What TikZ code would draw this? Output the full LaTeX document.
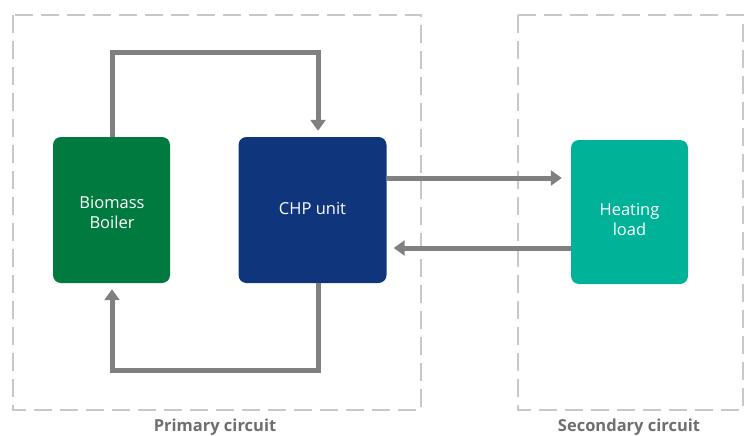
\documentclass[tikz,border=0pt]{standalone}
\usepackage{fontspec}
\setmainfont{Open Sans}
\usetikzlibrary{arrows.meta}
\definecolor{boilergreen}{HTML}{007A3F}
\definecolor{chpblue}{HTML}{0F357C}
\definecolor{loadteal}{HTML}{00B398}
\definecolor{pipegray}{HTML}{808080}
\definecolor{framegray}{HTML}{C8C8C8}
\definecolor{labelgray}{HTML}{6E6E6E}
\tikzset{
  unitbox/.style={rounded corners=8pt, inner sep=0pt},
  unittext/.style={text=white, align=center, font=\fontsize{16.5}{20}\selectfont},
  circuitframe/.style={draw=framegray, line width=2pt, dash pattern=on 18pt off 8pt},
  pipe/.style={draw=pipegray, line width=5pt},
  flow/.style={pipe, -{Triangle[length=11pt,width=15pt]}},
  circuitlabel/.style={text=labelgray, anchor=base, inner sep=0pt,
    font=\bfseries\fontsize{16.5}{18}\selectfont}
}
\begin{document}
\begin{tikzpicture}[x=1pt,y=-1pt]
  \useasboundingbox (0,0) rectangle (749,436);

  % circuit frames
  \draw[circuitframe] (13,15) rectangle (421,410);
  \draw[circuitframe] (518,15) rectangle (743,410);
  \node[circuitlabel] (primlbl) at (215,431.5) {Primary circuit};
  \node[circuitlabel] (seclbl) at (629,431.5) {Secondary circuit};

  % units
  \node[unitbox, fill=boilergreen, minimum width=117pt, minimum height=146pt]
    (boiler) at (111.5,210) {};
  \node[unittext] (boilertxt) at (112,213) {Biomass\\Boiler};
  \node[unitbox, fill=chpblue, minimum width=148pt, minimum height=146pt]
    (chp) at (312.5,210) {};
  \node[unittext] (chptxt) at (312.5,209) {CHP unit};
  \node[unitbox, fill=loadteal, minimum width=117pt, minimum height=144pt]
    (load) at (629.5,212) {};
  \node[unittext] (loadtxt) at (629.5,220) {Heating\\load};

  % coordinates of the pipe bends
  \coordinate (tl) at (112,53);
  \coordinate (tr) at (318,53);
  \coordinate (bl) at (112,370);
  \coordinate (br) at (318,370);

  % primary loop
  \draw[flow] (boiler.north -| tl) -- (tl) -- (tr) -- ([yshift=6pt]chp.north -| tr);
  \draw[flow] (chp.south -| br) -- (br) -- (bl) -- ([yshift=-6pt]boiler.south -| bl);

  % secondary exchange
  \draw[flow] (chp.east |- 0,178) -- ([xshift=-9pt]load.west |- 0,178);
  \draw[flow] (load.west |- 0,248) -- ([xshift=7pt]chp.east |- 0,248);
\end{tikzpicture}
\end{document}
